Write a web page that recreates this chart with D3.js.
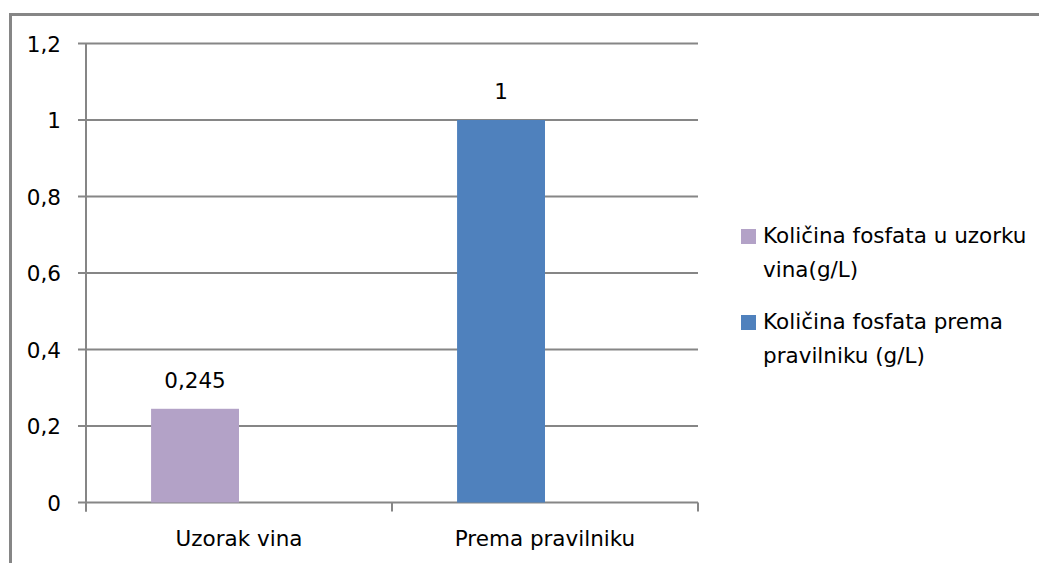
<!DOCTYPE html>
<html><head><meta charset="utf-8">
<script src="https://cdn.jsdelivr.net/npm/d3@7"></script>
<style>html,body{margin:0;padding:0;background:#fff;}svg{display:block;font-family:"DejaVu Sans",sans-serif;}</style>
</head><body><svg id="c" width="1039" height="563"></svg>
<script>
const categories = ["Uzorak vina", "Prema pravilniku"];
const seriesNames = ["Količina fosfata u uzorku vina(g/L)", "Količina fosfata prema pravilniku (g/L)"];
const legendLines = [["Količina fosfata u uzorku", "vina(g/L)"], ["Količina fosfata prema", "pravilniku (g/L)"]];
const seriesValues = [0.245, 1];
const seriesLabels = ["0,245", "1"];
const yTicks = [0, 0.2, 0.4, 0.6, 0.8, 1, 1.2];
const yTickLabels = ["0", "0,2", "0,4", "0,6", "0,8", "1", "1,2"];
const colors = ["#B3A2C7", "#4F81BD"];

const svg = d3.select("#c");
const grey = "#868686";
const fs = 21.5;
// chart border (top and left visible)
svg.append("path").attr("d", "M10.5,563 V14.5 H1039").attr("fill", "none").attr("stroke", grey).attr("stroke-width", 3);

const pLeft = 86, pRight = 698, pTop = 43.5, pBottom = 502.5;
const y = d3.scaleLinear().domain([0, 1.2]).range([pBottom, pTop]);
const x = d3.scaleBand().domain(categories).range([pLeft, pRight]).paddingInner(0).paddingOuter(0);
const slot = d3.scaleBand().domain(["s0", "s1"]).range([0, x.bandwidth()]).paddingOuter(0.74).paddingInner(0);

// gridlines
svg.append("g").selectAll("line").data(yTicks).join("line")
  .attr("x1", pLeft - 8).attr("x2", pRight).attr("y1", d => y(d)).attr("y2", d => y(d))
  .attr("stroke", grey).attr("stroke-width", 2);
// y axis line
svg.append("line").attr("x1", pLeft).attr("x2", pLeft).attr("y1", pTop).attr("y2", pBottom + 9).attr("stroke", grey).attr("stroke-width", 2);
// x ticks
const xt = [pLeft, pLeft + x.bandwidth(), pRight];
svg.append("g").selectAll("line").data(xt).join("line")
  .attr("x1", d => d).attr("x2", d => d).attr("y1", pBottom).attr("y2", pBottom + 9).attr("stroke", grey).attr("stroke-width", 2);

// y tick labels
svg.append("g").selectAll("text").data(yTicks).join("text")
  .attr("x", 61).attr("y", d => y(d) + 8).attr("text-anchor", "end")
  .attr("font-size", fs).attr("fill", "#000").text((d, i) => yTickLabels[i]);

// bars
svg.append("g").selectAll("rect").data(categories).join("rect")
  .attr("x", (d) => x(d) + slot("s0"))
  .attr("width", slot.bandwidth())
  .attr("y", (d, i) => y(seriesValues[i]))
  .attr("height", (d, i) => pBottom - y(seriesValues[i]))
  .attr("fill", (d, i) => colors[i]);

// value labels
svg.append("g").selectAll("text").data(categories).join("text")
  .attr("x", d => x(d) + slot("s0") + slot.bandwidth() / 2)
  .attr("y", (d, i) => y(seriesValues[i]) - 21)
  .attr("text-anchor", "middle").attr("font-size", fs).attr("fill", "#000")
  .text((d, i) => seriesLabels[i]);

// category labels
svg.append("g").selectAll("text").data(categories).join("text")
  .attr("x", d => x(d) + x.bandwidth() / 2).attr("y", 546)
  .attr("text-anchor", "middle").attr("font-size", fs).attr("fill", "#000").text(d => d);

// legend
const lg = svg.append("g");
const legY = [229, 315];
legendLines.forEach((lines, i) => {
  lg.append("rect").attr("x", 741).attr("y", legY[i]).attr("width", 15).attr("height", 15).attr("fill", colors[i]);
  lines.forEach((t, j) => {
    lg.append("text").attr("x", 763).attr("y", legY[i] + 14 + j * 34)
      .attr("font-size", fs).attr("fill", "#000").text(t);
  });
});
</script></body></html>
